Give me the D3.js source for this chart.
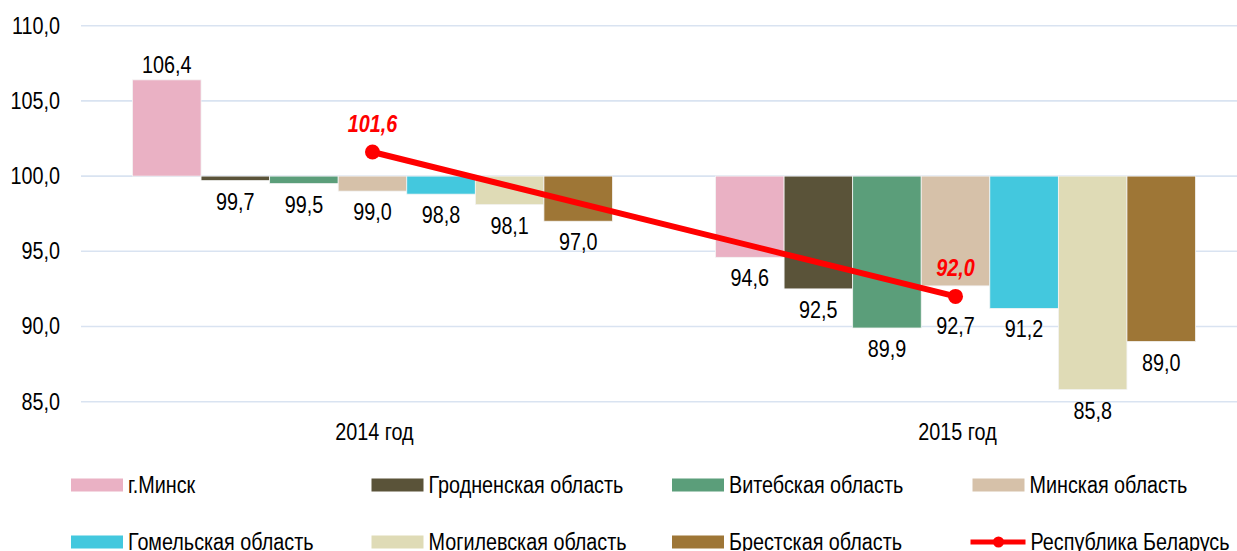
<!DOCTYPE html>
<html>
<head>
<meta charset="utf-8">
<script src="https://cdn.jsdelivr.net/npm/d3@7"></script>
<style>
  html, body { margin: 0; padding: 0; background: #fff; }
  svg { display: block; }
  text { font-family: "Liberation Sans", Arial, sans-serif; }
</style>
</head>
<body>
<svg id="chart" width="1237" height="551"></svg>
<script>
// ---- data ----
const categories = ["2014 год", "2015 год"];
const regions = ["г.Минск", "Гродненская область", "Витебская область", "Минская область",
                 "Гомельская область", "Могилевская область", "Брестская область"];
const values2014 = [106.4, 99.7, 99.5, 99.0, 98.8, 98.1, 97.0];
const values2015 = [94.6, 92.5, 89.9, 92.7, 91.2, 85.8, 89.0];
const republicName = "Республика Беларусь";
const republicValues = [101.6, 92.0];
const yTicks = [85, 90, 95, 100, 105, 110];
const baseline = 100;

// ---- styles ----
const palette = ["#eab1c4", "#5a5339", "#5b9e7a", "#d6c1a9", "#43c8de", "#dfdbb6", "#9e7636"];
const lineColor = "#ff0000";
const fontSize = 23;
const narrowRatio = 0.86; // emulate Arial Narrow with Liberation Sans

const svg = d3.select("#chart");
const W = 1237, H = 551;
svg.append("rect").attr("width", W).attr("height", H).attr("fill", "#fff");

function narrow(sel) {
  sel.each(function () {
    const t = d3.select(this);
    const ax = +t.attr("x") || 0;
    t.attr("transform", `translate(${ax},0) scale(${narrowRatio},1) translate(${-ax},0)`);
  });
}

const y = d3.scaleLinear().domain([85, 110]).range([401.7, 25.7]);
const x0 = d3.scaleBand().domain(categories).range([81, 1247]).paddingInner(0.1767).paddingOuter(0.0883);
const x1 = d3.scaleBand().domain(regions).range([0, x0.bandwidth()]);
const color = d3.scaleOrdinal().domain(regions).range(palette);
const fmt = v => d3.format(".1f")(v).replace(".", ",");

// gridlines
svg.append("g").selectAll("line").data(yTicks).join("line")
  .attr("x1", 81).attr("x2", W)
  .attr("y1", d => y(d)).attr("y2", d => y(d))
  .attr("stroke", "#d9e3f1").attr("stroke-width", 1.6);

// y axis via d3.axisLeft (labels only)
const yAxis = svg.append("g").attr("transform", "translate(81,0)")
  .call(d3.axisLeft(y).tickValues(yTicks).tickFormat(fmt).tickSize(0).tickPadding(21));
yAxis.select(".domain").remove();
yAxis.selectAll("text").attr("font-size", fontSize).attr("fill", "#000")
  .style("font-family", "'Liberation Sans', Arial, sans-serif").call(narrow);

// x axis labels
const xAxis = svg.append("g").attr("transform", "translate(2,401.7)")
  .call(d3.axisBottom(x0).tickSize(0).tickPadding(22));
xAxis.select(".domain").remove();
xAxis.selectAll("text").attr("font-size", fontSize).attr("fill", "#000")
  .style("font-family", "'Liberation Sans', Arial, sans-serif").call(narrow);

// bars
const seriesByCat = [values2014, values2015];
const barData = [];
categories.forEach((c, ci) => {
  regions.forEach((r, ri) => barData.push({ cat: c, region: r, value: seriesByCat[ci][ri] }));
});

const lineX = c => x0(c) + x0.bandwidth() / 2;
const linePts = categories.map((c, i) => ({ cat: c, value: republicValues[i] }));

svg.append("g").selectAll("rect").data(barData).join("rect")
  .attr("x", d => x0(d.cat) + x1(d.region))
  .attr("width", x1.bandwidth())
  .attr("y", d => y(Math.max(d.value, baseline)))
  .attr("height", d => Math.abs(y(d.value) - y(baseline)))
  .attr("fill", d => color(d.region))
  .attr("stroke", "#f4f4f4").attr("stroke-width", 0.8);

// bar labels
svg.append("g").selectAll("text").data(barData).join("text")
  .attr("x", d => x0(d.cat) + x1(d.region) + x1.bandwidth() / 2)
  .attr("y", d => {
    if (d.value >= baseline) return y(d.value) - 15;
    let cy = y(d.value) + 21;
    const p = linePts.find(p => p.cat === d.cat);
    const px = lineX(d.cat), py = y(p.value);
    const cx = x0(d.cat) + x1(d.region) + x1.bandwidth() / 2;
    if (Math.abs(cx - px) < 25 && Math.abs(cy - py) < 20) cy = py + 30;
    return cy;
  })
  .attr("dy", "0.35em")
  .attr("text-anchor", "middle")
  .attr("font-size", fontSize).attr("fill", "#000")
  .text(d => fmt(d.value))
  .call(narrow);

// line
const line = d3.line().x(d => lineX(d.cat)).y(d => y(d.value));
svg.append("path").datum(linePts).attr("d", line)
  .attr("fill", "none").attr("stroke", lineColor).attr("stroke-width", 6);
svg.append("g").selectAll("circle").data(linePts).join("circle")
  .attr("cx", d => lineX(d.cat)).attr("cy", d => y(d.value)).attr("r", 7.5)
  .attr("fill", lineColor);
svg.append("g").selectAll("text").data(linePts).join("text")
  .attr("x", d => lineX(d.cat)).attr("y", d => y(d.value) - 28).attr("dy", "0.35em")
  .attr("text-anchor", "middle").attr("font-size", fontSize)
  .attr("font-weight", "bold").attr("font-style", "italic").attr("fill", lineColor)
  .text(d => fmt(d.value))
  .call(narrow);

// legend
const legendItems = regions.map(r => ({ name: r, type: "bar" }))
  .concat([{ name: republicName, type: "line" }]);
const colX = d3.scaleBand().domain(d3.range(4)).range([71, 1273]);
const rowY = d3.scaleBand().domain(d3.range(2)).range([456.5, 570.5]);
const lg = svg.append("g").selectAll("g").data(legendItems).join("g")
  .attr("transform", (d, i) => `translate(${colX(i % 4)},${rowY(Math.floor(i / 4)) + rowY.bandwidth() / 2})`);
lg.filter(d => d.type === "bar").append("rect")
  .attr("x", 0).attr("y", -6.5).attr("width", 52).attr("height", 13)
  .attr("fill", d => color(d.name));
lg.filter(d => d.type === "line").append("line")
  .attr("x1", -2).attr("x2", 53).attr("y1", 0).attr("y2", 0)
  .attr("stroke", lineColor).attr("stroke-width", 5);
lg.filter(d => d.type === "line").append("circle")
  .attr("cx", 26).attr("cy", 0).attr("r", 5.5).attr("fill", lineColor);
lg.append("text").attr("x", d => d.type === "line" ? 58 : 57).attr("y", 0).attr("dy", "0.35em")
  .attr("font-size", fontSize).attr("fill", "#000").text(d => d.name)
  .call(narrow);
</script>
</body>
</html>
